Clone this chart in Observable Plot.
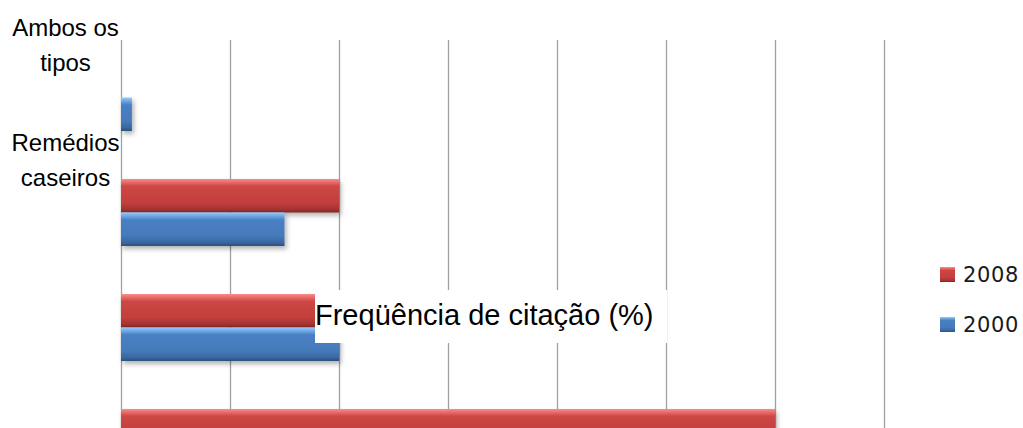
<!DOCTYPE html>
<html>
<head>
<meta charset="utf-8">
<script src="https://cdn.jsdelivr.net/npm/d3@7"></script>
<script src="https://cdn.jsdelivr.net/npm/@observablehq/plot@0.6"></script>
<style>
html, body { margin: 0; padding: 0; background: #fff; overflow: hidden; }
#wrap { position: relative; width: 1023px; height: 428px; }
#title {
  position: absolute; left: 315px; top: 290px; width: 352px; height: 53px;
  background: #fff; color: #000; white-space: nowrap;
  font-family: "Liberation Sans", Arial, sans-serif; font-size: 29px; line-height: 51px;
}
</style>
</head>
<body>
<div id="wrap"></div>
<script>
// ---- data ----
const categories = ["Ambos os tipos", "Remédios caseiros", "Categoria 3", "Categoria 4"];
const categoryLabels = ["Ambos os\ntipos", "Remédios\ncaseiros", "", ""];
const years = ["2008", "2000"];
const values2008 = [0, 20, 18, 60];
const values2000 = [1, 15, 20, null];
const xTicks = [0, 10, 20, 30, 40, 50, 60, 70];
const axisTitle = "Freqüência de citação (%)";

const rows2008 = categories.map((c, i) => ({cat: c, year: years[0], value: values2008[i]})).filter(d => d.value != null);
const rows2000 = categories.map((c, i) => ({cat: c, year: years[1], value: values2000[i]})).filter(d => d.value != null);
const labelRows = categories.map((c, i) => ({cat: c, label: categoryLabels[i]}));

const plot = Plot.plot({
  width: 1023,
  height: 428,
  marginLeft: 121,
  marginRight: 139,
  marginTop: 40,
  marginBottom: 0,
  style: {background: "white", fontFamily: "Liberation Sans, Arial, sans-serif", color: "black"},
  x: {domain: [0, 70], axis: null},
  y: {domain: categories, range: [40, 500], padding: 0, axis: null},
  marks: [
    Plot.gridX(xTicks, {stroke: "#a0a0a0", strokeOpacity: 1, strokeWidth: 1.3}),
    Plot.barX(rows2008, {x: "value", y: "cat", fill: "url(#gRed)", insetTop: 24, insetBottom: 57.5}),
    Plot.barX(rows2000, {x: "value", y: "cat", fill: "url(#gBlue)", insetTop: 57.5, insetBottom: 24}),
    Plot.text(labelRows, {
      y: "cat", text: "label", frameAnchor: "left", dx: -56, dy: -56,
      textAnchor: "middle", fontSize: 24, lineHeight: 1.46, fill: "black"
    })
  ]
});

const svg = d3.select(plot);
const defs = svg.insert("defs", ":first-child");
function grad(id, stops) {
  const g = defs.append("linearGradient").attr("id", id)
    .attr("x1", 0).attr("y1", 0).attr("x2", 0).attr("y2", 1);
  stops.forEach(([o, c]) => g.append("stop").attr("offset", o).attr("stop-color", c));
}
grad("gRed", [["0%", "#f38e8c"], ["10%", "#e96a67"], ["22%", "#cc4744"], ["70%", "#c23f3d"], ["90%", "#a53432"], ["100%", "#7e2625"]]);
grad("gBlue", [["0%", "#95cbfb"], ["10%", "#6fa9e8"], ["22%", "#4a80c4"], ["70%", "#447abb"], ["90%", "#3a669e"], ["100%", "#2b4f7c"]]);
const f = defs.append("filter").attr("id", "shadow").attr("x", "-5%").attr("y", "-20%").attr("width", "115%").attr("height", "160%");
f.append("feDropShadow").attr("dx", 2).attr("dy", 3).attr("stdDeviation", 2.5)
  .attr("flood-color", "#000").attr("flood-opacity", 0.3);
svg.selectAll('g[aria-label="bar"]').attr("filter", "url(#shadow)");

// legend
const legend = svg.append("g")
  .attr("font-family", "DejaVu Sans, sans-serif")
  .attr("text-anchor", "start");
[["2008", "url(#gRed)", 282], ["2000", "url(#gBlue)", 332]].forEach(([t, fill, base]) => {
  legend.append("rect").attr("x", 940).attr("y", base - 15).attr("width", 15).attr("height", 15)
    .attr("fill", fill);
  legend.append("text").attr("x", 963).attr("y", base).attr("fill", "#1a1a1a")
    .attr("text-anchor", "start").style("font-size", "21px")
    .attr("letter-spacing", 0.6).text(t);
});

const wrap = document.getElementById("wrap");
wrap.appendChild(plot);
const title = document.createElement("div");
title.id = "title";
title.textContent = axisTitle;
wrap.appendChild(title);
</script>
</body>
</html>
